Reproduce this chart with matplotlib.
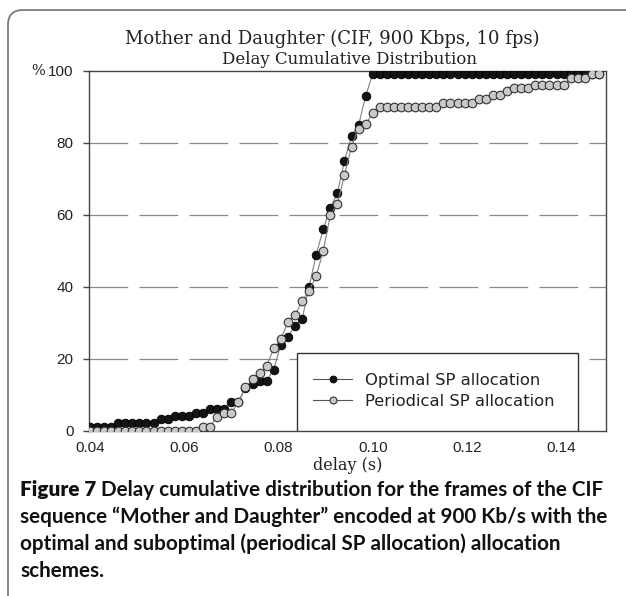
import matplotlib
matplotlib.use("Agg")
import matplotlib.pyplot as plt
from matplotlib.lines import Line2D
from matplotlib.patches import FancyBboxPatch, Rectangle

# ---- data ----
delay = [0.0400, 0.0415, 0.0430, 0.0445, 0.0460, 0.0475, 0.0490, 0.0505, 0.0520, 0.0535,
         0.0550, 0.0565, 0.0580, 0.0595, 0.0610, 0.0625, 0.0640, 0.0655, 0.0670, 0.0685,
         0.0700, 0.0715, 0.0730, 0.0745, 0.0760, 0.0775, 0.0790, 0.0805, 0.0820, 0.0835,
         0.0850, 0.0865, 0.0880, 0.0895, 0.0910, 0.0925, 0.0940, 0.0955, 0.0970, 0.0985,
         0.1000, 0.1015, 0.1030, 0.1045, 0.1060, 0.1075, 0.1090, 0.1105, 0.1120, 0.1135,
         0.1150, 0.1165, 0.1180, 0.1195, 0.1210, 0.1225, 0.1240, 0.1255, 0.1270, 0.1285,
         0.1300, 0.1315, 0.1330, 0.1345, 0.1360, 0.1375, 0.1390, 0.1405, 0.1420, 0.1435,
         0.1450, 0.1465, 0.1480]

optimal = [1.2, 1.2, 1.2, 1.2, 2.3, 2.3, 2.3, 2.3, 2.3, 2.3,
           3.3, 3.3, 4.2, 4.2, 4.2, 5.0, 5.0, 6.0, 6.0, 6.0,
           8.1, 8.1, 12.0, 13.0, 14.0, 14.0, 17.0, 24.0, 26.0, 29.3,
           31.0, 40.0, 49.0, 56.0, 62.0, 66.0, 75.0, 82.0, 85.0, 93.0,
           99.3, 99.3, 99.3, 99.3, 99.3, 99.3, 99.3, 99.3, 99.3, 99.3,
           99.3, 99.3, 99.3, 99.3, 99.3, 99.3, 99.3, 99.3, 99.3, 99.3,
           99.3, 99.3, 99.3, 99.3, 99.3, 99.3, 99.3, 99.3, 99.3, 99.3,
           99.3, 99.3, 99.3]

periodical = [0.0, 0.0, 0.0, 0.0, 0.0, 0.0, 0.0, 0.0, 0.0, 0.0,
              0.0, 0.0, 0.0, 0.0, 0.0, 0.0, 1.2, 1.2, 4.0, 4.9,
              4.9, 8.1, 12.1, 14.4, 16.0, 18.0, 23.0, 25.5, 30.2, 32.2,
              36.0, 39.0, 43.0, 50.0, 60.0, 63.0, 71.0, 79.0, 84.0, 85.3,
              88.2, 90.0, 90.0, 90.0, 90.0, 90.0, 90.0, 90.0, 90.0, 90.0,
              91.2, 91.2, 91.2, 91.2, 91.2, 92.3, 92.3, 93.4, 93.4, 94.5,
              95.2, 95.2, 95.2, 96.1, 96.1, 96.1, 96.1, 96.1, 98.0, 98.0,
              98.0, 99.2, 99.2]

xticks = [0.04, 0.06, 0.08, 0.10, 0.12, 0.14]
xtick_labels = ["0.04", "0.06", "0.08", "0.10", "0.12", "0.14"]
yticks = [0, 20, 40, 60, 80, 100]
ytick_labels = ["0", "20", "40", "60", "80", "100"]
series_names = ["Optimal SP allocation", "Periodical SP allocation"]

W, H = 626, 596
fig = plt.figure(figsize=(W / 100, H / 100), dpi=100)
fig.patch.set_facecolor("white")

# rounded outer frame (figure panel border)
frame = FancyBboxPatch((8 / 100, -1.0), 8.0, (H - 10) / 100 + 1.0,
                       boxstyle="round,pad=0,rounding_size=0.15",
                       transform=fig.dpi_scale_trans, fill=False,
                       edgecolor="#7a7a7a", linewidth=1.3)
fig.add_artist(frame)

ax = fig.add_axes([89 / W, 1 - 431 / H, (606 - 89) / W, (431 - 71) / H])
ax.set_xlim(0.0398, 0.1495)
ax.set_ylim(0, 100)

for s in ax.spines.values():
    s.set_color("#444444")
    s.set_linewidth(1.0)

# dashed grid lines
for g in [20, 40, 60, 80]:
    ax.axhline(g, color="#8a8a8a", linewidth=0.9, linestyle=(0, (31, 9)), zorder=1)

ax.plot(delay, optimal, color="#808080", linewidth=0.8, marker="o", markersize=6.2,
        markerfacecolor="#141414", markeredgecolor="#000000", markeredgewidth=0.6, zorder=3)
ax.plot(delay, periodical, color="#808080", linewidth=0.8, marker="o", markersize=6.2,
        markerfacecolor="#c9c9c9", markeredgecolor="#333333", markeredgewidth=0.8, zorder=4)

ax.set_xticks(xticks)
ax.set_xticklabels(xtick_labels)
ax.set_yticks(yticks)
ax.set_yticklabels(ytick_labels)
ax.tick_params(axis="x", length=0, pad=7.5, labelsize=11, labelcolor="#222222")
ax.tick_params(axis="y", length=4, width=1, color="#444444", pad=7,
               labelsize=11, labelcolor="#222222")
for lab in ax.get_xticklabels() + ax.get_yticklabels():
    lab.set_fontfamily("Liberation Sans")

ax.text(-0.085, 1.0, "%", transform=ax.transAxes, ha="right", va="center",
        fontsize=10.5, family="DejaVu Serif", color="#222222")

ax.set_xlabel("delay (s)", family="DejaVu Serif", fontsize=11.5, labelpad=1, color="#222222")

# titles
fig.text(332 / W, 1 - 39 / H, "Mother and Daughter (CIF, 900 Kbps, 10 fps)",
         ha="center", va="center", family="DejaVu Serif", fontsize=13, color="#222222")
fig.text(349 / W, 1 - 59 / H, "Delay Cumulative Distribution",
         ha="center", va="center", family="DejaVu Serif", fontsize=12, color="#222222")

# legend box
ax.add_patch(Rectangle(((296.7 - 89) / 517, 0), (577.7 - 296.7) / 517, (431 - 352.7) / 360,
                       transform=ax.transAxes, fill=True, facecolor="white",
                       edgecolor="#333333", linewidth=1.0, zorder=5))
handles = [
    Line2D([], [], color="#555555", linewidth=0.8, marker="o", markersize=5,
           markerfacecolor="#141414", markeredgecolor="#000000", markeredgewidth=0.6),
    Line2D([], [], color="#555555", linewidth=0.8, marker="o", markersize=5,
           markerfacecolor="#c9c9c9", markeredgecolor="#333333", markeredgewidth=0.8),
]
leg = ax.legend(handles, series_names, loc="center left",
                bbox_to_anchor=((313 - 89) / 517, (431 - 391) / 360),
                frameon=False, handlelength=2.4, handletextpad=0.8, labelspacing=0.35,
                borderpad=0, borderaxespad=0,
                prop={"family": "DejaVu Sans", "size": 11.8})
leg.set_zorder(6)
for t in leg.get_texts():
    t.set_color("#222222")

# caption
cap_font = "Lato"
cap_size = 14.9
cap_x = 20 / W
lines = [
    (" Delay cumulative distribution for the frames of the CIF", 496),
    ("sequence \u201cMother and Daughter\u201d encoded at 900 Kb/s with the", 523),
    ("optimal and suboptimal (periodical SP allocation) allocation", 550),
    ("schemes.", 577),
]
t0 = fig.text(cap_x, 1 - lines[0][1] / H, "Figure 7", ha="left", va="baseline",
              family=cap_font, fontsize=cap_size, fontweight="heavy", color="#111111")
fig.canvas.draw()
r = fig.canvas.get_renderer()
bb = t0.get_window_extent(renderer=r)
fig.text(bb.x1 / W, 1 - lines[0][1] / H, lines[0][0], ha="left", va="baseline",
         family=cap_font, fontsize=cap_size, fontweight="bold", color="#111111")
for txt, yy in lines[1:]:
    fig.text(cap_x, 1 - yy / H, txt, ha="left", va="baseline",
             family=cap_font, fontsize=cap_size, fontweight="bold", color="#111111")

fig.savefig("out.png", dpi=100)
